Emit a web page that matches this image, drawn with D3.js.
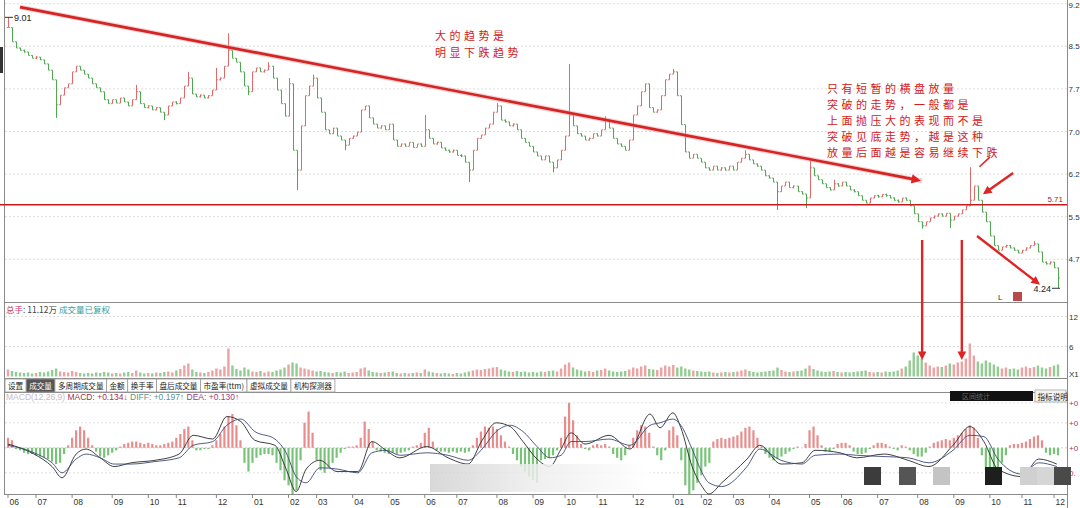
<!DOCTYPE html>
<html><head><meta charset="utf-8">
<script src="https://cdn.jsdelivr.net/npm/d3@7"></script>
<style>html,body{margin:0;padding:0;background:#fff;}svg{display:block;}</style>
</head><body><svg id="c" width="1080" height="508"></svg>
<script>
// ---------------- DATA ----------------
const closes = [
8.83,8.58,8.47,8.43,8.40,8.34,8.29,8.31,8.26,8.19,
8.08,7.91,7.47,7.64,7.77,7.84,8.05,8.15,8.08,8.01,
7.94,7.84,7.77,7.70,7.56,7.49,7.56,7.50,7.59,7.52,
7.45,7.56,7.70,7.49,7.42,7.45,7.38,7.42,7.34,7.29,
7.45,7.52,7.49,7.59,7.80,7.94,7.66,7.61,7.64,7.59,
7.63,7.73,7.91,7.94,8.15,8.43,8.29,8.22,8.05,7.80,
7.70,8.05,8.12,8.05,8.08,8.15,7.94,7.73,7.49,7.27,
7.84,6.67,6.32,7.10,7.63,7.80,7.94,7.59,7.34,7.03,
6.96,7.06,6.92,6.85,6.76,6.88,6.92,6.99,7.38,7.45,
7.24,7.13,7.06,7.10,7.03,7.13,6.85,6.74,6.78,6.74,
6.81,6.72,6.78,6.74,7.03,6.88,6.78,6.81,6.71,6.67,
6.64,6.67,6.58,6.57,6.46,6.32,6.67,6.88,6.94,7.06,
7.13,7.34,7.45,7.20,7.17,7.10,7.13,7.03,6.88,6.81,
6.74,6.64,6.57,6.50,6.57,6.46,6.36,6.50,6.67,6.92,
7.29,7.10,6.96,6.92,6.85,6.88,6.96,6.92,7.03,7.20,
7.06,6.88,6.78,6.74,6.67,6.85,7.29,7.45,7.70,7.84,
7.42,7.34,7.38,7.63,7.91,8.01,8.05,7.63,7.12,6.64,
6.53,6.60,6.53,6.46,6.36,6.32,6.39,6.32,6.36,6.32,
6.39,6.32,6.46,6.53,6.60,6.50,6.43,6.39,6.32,6.22,
6.18,6.11,5.94,6.04,6.11,6.01,6.04,5.94,5.90,5.83,
6.36,6.22,6.15,6.08,6.01,5.97,6.08,6.04,6.11,6.04,
5.97,5.94,5.87,5.79,5.74,5.83,5.87,5.85,5.89,5.87,
5.83,5.79,5.76,5.83,5.79,5.69,5.55,5.41,5.34,5.41,
5.48,5.51,5.55,5.51,5.56,5.44,5.51,5.55,5.62,5.69,
5.79,6.04,5.79,5.58,5.41,5.16,4.99,4.91,4.97,4.99,
4.95,4.91,4.86,4.91,4.95,4.99,5.02,4.88,4.70,4.67,
4.70,4.60,4.42];
const highIdx = [0,32,45,52,55,65,70,76,104,122,140,149,166,184,200,206,240,256];
const highVal = [9.01,7.82,8.05,8.12,8.73,8.22,7.94,8.00,7.29,7.50,8.19,7.27,8.10,6.67,6.50,6.15,6.37,5.07];
const lowIdx = [12,39,60,72,84,115,136,192,199,228,235,262];
const lowVal = [7.24,7.20,7.64,5.97,6.67,6.11,6.28,5.62,5.65,5.29,5.30,4.24];

const volumes = [
1.4,1.1,0.9,0.8,0.7,0.8,0.6,0.7,0.9,0.8,
1.0,1.3,1.6,1.0,0.9,0.8,1.1,0.9,0.7,0.6,
0.7,0.6,0.8,0.7,0.9,0.8,0.6,0.7,0.6,0.8,
0.9,0.7,1.2,0.8,0.6,0.7,0.6,0.8,0.7,0.9,
1.0,0.8,1.2,1.5,2.2,2.6,1.4,0.9,0.8,0.7,
0.9,1.2,1.6,1.4,2.0,5.6,2.2,1.5,1.2,1.8,
1.4,1.0,0.9,1.1,0.8,1.0,0.9,1.2,1.4,1.8,
2.4,2.8,2.6,1.8,1.6,1.4,1.2,1.0,1.1,0.9,
0.8,0.7,0.9,0.8,1.0,0.7,0.8,0.9,1.6,1.8,
1.2,0.9,0.8,0.7,0.8,0.9,1.0,0.7,0.6,0.7,
0.6,0.7,0.8,0.7,1.4,1.0,0.8,0.7,0.6,0.7,
0.6,0.5,0.7,0.6,0.8,1.0,1.2,1.4,1.3,1.5,
1.6,1.8,1.9,1.4,1.2,1.0,0.9,1.1,0.9,1.0,
0.8,0.9,0.8,1.0,0.9,1.1,1.2,1.0,1.6,2.4,
2.8,1.8,1.4,1.2,1.0,1.1,0.9,1.2,1.3,1.6,
1.2,1.0,0.9,1.0,1.1,1.4,1.8,1.6,2.0,2.2,
1.5,1.4,1.3,1.8,2.2,2.0,2.3,1.8,2.0,1.6,
1.4,1.2,1.1,1.0,0.9,1.0,0.8,0.7,0.8,0.9,
0.8,0.9,1.0,1.2,1.4,1.1,0.9,0.8,0.9,1.0,
1.1,1.2,1.8,1.3,1.0,0.9,1.0,1.1,1.2,1.6,
2.2,1.5,1.2,1.0,0.9,1.0,1.1,0.9,0.8,0.9,
0.8,0.9,1.0,1.1,1.2,0.9,0.8,0.9,0.8,1.0,
0.9,1.0,1.2,1.6,2.0,3.2,4.8,4.2,3.6,2.8,
2.2,1.8,2.0,1.9,2.2,2.6,2.4,2.8,3.0,3.6,
6.6,4.2,3.0,2.6,3.2,2.8,2.4,2.0,1.6,1.8,
1.5,1.6,1.4,1.8,2.0,1.7,1.9,2.2,1.8,1.6,
1.9,2.2,2.4];

const macdHist = [
0.08,0.06,-0.01,-0.02,-0.04,-0.05,-0.05,-0.06,-0.07,-0.08,
-0.09,-0.11,-0.13,-0.12,-0.05,0.02,0.08,0.14,0.17,0.14,
0.08,0.02,-0.03,-0.07,-0.08,-0.06,-0.04,-0.02,0.01,0.03,
0.04,0.05,0.05,0.04,0.03,0.04,0.03,0.02,0.02,0.03,
0.04,0.05,0.08,0.11,0.15,0.17,0.06,-0.02,-0.02,-0.01,
-0.01,0.02,0.06,0.11,0.17,0.25,0.27,0.18,0.06,-0.12,
-0.19,-0.12,-0.08,-0.06,-0.05,-0.05,-0.06,-0.12,-0.18,-0.26,
-0.30,-0.37,-0.34,-0.10,0.20,0.29,0.12,-0.10,-0.18,-0.20,
-0.16,-0.12,-0.08,-0.04,-0.01,0.01,0.01,0.02,0.08,0.21,
0.15,0.05,-0.02,-0.03,-0.04,-0.05,-0.04,-0.05,-0.04,-0.03,
-0.02,0.01,0.02,0.04,0.12,0.16,0.05,-0.02,-0.03,-0.03,
-0.04,-0.03,-0.04,-0.03,-0.04,-0.03,0.02,0.08,0.13,0.17,
0.16,0.17,0.15,0.10,0.05,0.01,-0.05,-0.10,-0.15,-0.19,
-0.23,-0.26,-0.28,-0.10,-0.09,-0.08,-0.06,-0.02,0.08,0.25,
0.36,0.22,0.10,0.03,-0.01,-0.02,0.02,0.03,0.02,0.03,
0.01,-0.05,-0.08,-0.10,-0.06,0.02,0.08,0.14,0.18,0.17,
0.12,0.01,-0.06,-0.10,-0.02,0.14,0.17,0.10,-0.10,-0.30,
-0.37,-0.34,-0.28,-0.22,-0.15,-0.12,0.05,0.07,0.08,0.07,
0.08,0.09,0.10,0.13,0.16,0.17,0.14,0.08,0.01,-0.05,
-0.08,-0.10,-0.09,-0.07,-0.05,-0.03,-0.01,0.01,0.00,0.03,
0.14,0.17,0.10,0.02,-0.03,-0.03,-0.01,0.03,0.04,0.04,
0.02,-0.03,-0.05,-0.05,-0.04,-0.01,0.02,0.04,0.04,0.03,
0.01,-0.01,-0.02,0.02,0.01,-0.02,-0.05,-0.07,-0.07,-0.04,
0.01,0.04,0.05,0.06,0.07,0.06,0.08,0.10,0.12,0.15,
0.18,0.16,0.08,-0.06,-0.18,-0.23,-0.22,-0.18,-0.12,-0.06,
0.02,0.03,0.03,0.04,0.05,0.07,0.09,0.10,0.06,-0.04,
-0.06,-0.05,-0.06];

const lineIdx = [0,6.5,11,13.5,17,19.5,23,26.5,30.7,36.7,42.7,46.2,51.1,54.6,58.1,61.6,66.6,69.4,71.9,74.4,77.8,82.1,87.3,90.8,94.3,97.8,104.5,109.8,114.8,118.3,121.8,125.3,128.5,132,135.2,138,140.5,144,150,155.2,160.2,162.7,165.9,167.9,170.7,173.2,174.9,178.1,184.4,187.6,192.9,198.1,201.4,207.6,211.8,218.6,224.6,229.8,235.8,240,243.5,247,253,257.2,261.7];
const diffVals = [0.03,-0.05,-0.15,-0.24,-0.05,-0.01,-0.08,-0.15,-0.12,-0.10,-0.05,0.10,0.07,0.25,0.21,0.06,0.02,-0.17,-0.35,-0.17,-0.10,-0.19,-0.19,0.05,-0.02,-0.08,0.01,-0.08,-0.13,0.06,0.20,0.17,0.05,-0.09,-0.15,-0.01,0.12,0.03,0.10,-0.01,0.27,0.16,0.28,0.16,-0.15,-0.31,-0.37,-0.28,-0.09,0.02,-0.13,-0.12,-0.02,-0.04,-0.08,-0.05,-0.10,-0.15,0.02,0.17,0.05,-0.17,-0.23,-0.09,-0.13];
const deaVals = [0.02,-0.04,-0.12,-0.20,-0.09,-0.05,-0.08,-0.13,-0.13,-0.11,-0.08,0.02,0.05,0.18,0.23,0.13,0.07,-0.04,-0.23,-0.28,-0.16,-0.17,-0.20,-0.04,-0.02,-0.06,-0.04,-0.06,-0.10,-0.01,0.13,0.18,0.13,0.01,-0.08,-0.06,0.05,0.05,0.07,0.02,0.18,0.20,0.23,0.18,-0.01,-0.20,-0.28,-0.31,-0.15,-0.01,-0.10,-0.13,-0.06,-0.05,-0.06,-0.07,-0.08,-0.12,-0.02,0.10,0.09,-0.09,-0.21,-0.12,-0.15];

const priceTicks = [9.25,8.5,7.75,7.0,6.25,5.5,4.75];
const priceTickLabels = ["9.2","8.5","7.7","7.0","6.2","5.5","4.7"];   // as visible at the cut-off right edge
const volTicks = [12,6];
const volTickLabels = ["12","6"];
const macdTicks = [0.36,0.2,0,-0.2];
const macdTickLabels = ["+0","+0","+0","0."];                      // as visible at the cut-off right edge
const monthLabels = ["06","07","08","09","10","11","12","01","02","03","04","05","06","07","08","09","10","11","12","01","02","03","04","05","06","07","08","09","10","11","12"];
const monthIdx = [0,7,16,26,35,42,52,61,70,77,86,95,104,112,122,131,139,147,156,166,173,181,190,200,208,217,227,236,245,253,261];
const tabs = ["设置","成交量","多周期成交量","金额","换手率","盘后成交量","市盈率(ttm)","虚拟成交量","机构探测器"];
const supportLevel = 5.71;
const firstHigh = 9.01, lastLow = 4.24;
const note1 = ["大的趋势是","明显下跌趋势"];
const note2 = ["只有短暂的横盘放量","突破的走势，一般都是","上面抛压大的表现而不是","突破见底走势，越是这种","放量后面越是容易继续下跌"];

// ---------------- DRAW ----------------
const svg = d3.select("#c");
const SANS = "'Liberation Sans','DejaVu Sans',Arial,sans-serif";
const CJK = "'Noto Sans CJK SC','Noto Sans',sans-serif";
const N = closes.length;
const x = d3.scaleLinear().domain([0, N-1]).range([8, 1058]);
const yP = d3.scaleLinear().domain([4.75, 9.25]).range([259.3, 3.7]);
const yV = d3.scaleLinear().domain([0, 12]).range([376.5, 316.5]);
const yM = d3.scaleLinear().domain([-0.2, 0.36]).range([472.8, 402.8]);
const R = 1067; // right axis x
const UP = "#e06a6a", DN = "#4fa84f";

const defs = svg.append("defs");
defs.append("marker").attr("id","arr").attr("viewBox","0 0 10 10").attr("refX",7).attr("refY",5)
  .attr("markerWidth",4.2).attr("markerHeight",3.6).attr("orient","auto")
  .append("path").attr("d","M0,0L10,5L0,10z").attr("fill","#e02424");
const g1 = defs.append("linearGradient").attr("id","blur1").attr("x1",0).attr("x2",1);
g1.append("stop").attr("offset",0).attr("stop-color","#cfcfcf").attr("stop-opacity",0.8);
g1.append("stop").attr("offset",0.45).attr("stop-color","#ececec").attr("stop-opacity",0.85);
g1.append("stop").attr("offset",1).attr("stop-color","#ffffff").attr("stop-opacity",0.9);

// grids
const grid = svg.append("g");
grid.selectAll(".pg").data(priceTicks).join("line")
  .attr("x1",5).attr("x2",R).attr("y1",d=>yP(d)).attr("y2",d=>yP(d))
  .attr("stroke","#d6d6d6").attr("stroke-dasharray","2,2").attr("stroke-width",0.8);
grid.selectAll(".vg").data(volTicks).join("line")
  .attr("x1",5).attr("x2",R).attr("y1",d=>yV(d)).attr("y2",d=>yV(d))
  .attr("stroke","#d6d6d6").attr("stroke-dasharray","2,2").attr("stroke-width",0.8);
grid.selectAll(".mg").data(macdTicks).join("line")
  .attr("x1",5).attr("x2",R).attr("y1",d=>yM(d)).attr("y2",d=>yM(d))
  .attr("stroke",d=>d===0?"#c8c8c8":"#d6d6d6").attr("stroke-dasharray","2,2").attr("stroke-width",0.8);

// frame lines
const frame = svg.append("g").attr("stroke","#8a8a8a").attr("stroke-width",1);
frame.append("line").attr("x1",4.5).attr("x2",4.5).attr("y1",0).attr("y2",495);
frame.append("line").attr("x1",R+0.5).attr("x2",R+0.5).attr("y1",0).attr("y2",508);
frame.append("line").attr("x1",4).attr("x2",R).attr("y1",302.5).attr("y2",302.5);
frame.append("line").attr("x1",4).attr("x2",R).attr("y1",378.5).attr("y2",378.5);
frame.append("line").attr("x1",4).attr("x2",R).attr("y1",392.5).attr("y2",392.5);
frame.append("line").attr("x1",4).attr("x2",R).attr("y1",494.5).attr("y2",494.5);
svg.append("rect").attr("x",0).attr("y",47).attr("width",3).attr("height",26).attr("fill","#333");

// price bars
const bars = closes.map((c,i)=>{
  const o = i>0 ? closes[i-1] : c;
  let hi = Math.max(o,c), lo = Math.min(o,c);
  const hk = highIdx.indexOf(i); if (hk>=0) hi = Math.max(hi, highVal[hk]);
  const lk = lowIdx.indexOf(i); if (lk>=0) lo = Math.min(lo, lowVal[lk]);
  return {i,o,c,hi,lo,up:c>=o};
});
const pb = svg.append("g");
bars.forEach(b=>{
  let y1 = yP(b.hi), y2 = yP(b.lo);
  if (y2-y1 < 3){ const m=(y1+y2)/2; y1=m-1.5; y2=m+1.5; }
  const col = b.up?UP:DN, cx = Math.round(x(b.i))+0.5;
  pb.append("line").attr("x1",cx).attr("x2",cx).attr("y1",y1).attr("y2",y2).attr("stroke",col).attr("stroke-width",1);
  pb.append("line").attr("x1",cx-1.6).attr("x2",cx).attr("y1",yP(b.o)).attr("y2",yP(b.o)).attr("stroke",col).attr("stroke-width",0.9);
  pb.append("line").attr("x1",cx).attr("x2",cx+1.6).attr("y1",yP(b.c)).attr("y2",yP(b.c)).attr("stroke",col).attr("stroke-width",0.9);
});

// volume bars
svg.append("g").selectAll("rect").data(volumes).join("rect")
  .attr("x",(d,i)=>x(i)-1.2).attr("width",2.4)
  .attr("y",d=>yV(d)).attr("height",d=>yV(0)-yV(d))
  .attr("fill",(d,i)=>bars[i].up?"#eba3a3":"#93cc93");

// macd histogram
svg.append("g").selectAll("line").data(macdHist).join("line")
  .attr("x1",(d,i)=>x(i)).attr("x2",(d,i)=>x(i))
  .attr("y1",yM(0)).attr("y2",d=>yM(d))
  .attr("stroke",d=>d>=0?"#e88c8c":"#79c379").attr("stroke-width",2.2);
const ln = d3.line().x(d=>x(d[0])).y(d=>yM(d[1])).curve(d3.curveMonotoneX);
svg.append("path").attr("d",ln(lineIdx.map((k,j)=>[k,diffVals[j]]))).attr("fill","none").attr("stroke","#2a2a2a").attr("stroke-width",0.9);
svg.append("path").attr("d",ln(lineIdx.map((k,j)=>[k,deaVals[j]]))).attr("fill","none").attr("stroke","#3d4a78").attr("stroke-width",0.9);

// axes labels (right)
const ax = svg.append("g").attr("font-family",SANS).attr("font-size",8).attr("fill","#333");
ax.selectAll(".pl").data(priceTicks).join("text").attr("x",R+1.5).attr("y",d=>Math.max(yP(d)+3,8)).text((d,i)=>priceTickLabels[i]);
ax.selectAll(".vl").data(volTicks).join("text").attr("x",R+2).attr("y",d=>yV(d)+3).text((d,i)=>volTickLabels[i]);
ax.append("text").attr("x",R+2).attr("y",yV(0)).text("X1");
ax.selectAll(".ml").data(macdTicks).join("text").attr("x",R+2).attr("y",d=>yM(d)+3).attr("fill","#9a4060").text((d,i)=>macdTickLabels[i]);

// month axis
const mx = svg.append("g").attr("font-family",SANS).attr("font-size",8.5).attr("fill","#333");
mx.selectAll("line").data(monthIdx).join("line").attr("x1",d=>x(d)).attr("x2",d=>x(d)).attr("y1",494).attr("y2",498).attr("stroke","#888");
mx.selectAll("text").data(monthIdx).join("text").attr("x",d=>x(d)+1.5).attr("y",505).text((d,i)=>monthLabels[i]);

// support line 5.71
svg.append("line").attr("x1",0).attr("x2",R).attr("y1",yP(supportLevel)).attr("y2",yP(supportLevel)).attr("stroke","#c41c1c").attr("stroke-width",1.4);
svg.append("text").attr("x",R-4).attr("y",yP(supportLevel)-3).attr("text-anchor","end").attr("font-family",SANS).attr("font-size",8).attr("fill","#9a2a2a").text(d3.format(".2f")(supportLevel));

// first high / last low labels
svg.append("line").attr("x1",x(0)-3).attr("x2",x(0)+5).attr("y1",yP(firstHigh)).attr("y2",yP(firstHigh)).attr("stroke","#333");
svg.append("text").attr("x",x(0)+6).attr("y",yP(firstHigh)+3.5).attr("font-family",SANS).attr("font-size",9).attr("fill","#222").text(d3.format(".2f")(firstHigh));
svg.append("line").attr("x1",x(N-1)-6).attr("x2",x(N-1)+2).attr("y1",yP(lastLow)).attr("y2",yP(lastLow)).attr("stroke","#333");
svg.append("text").attr("x",x(N-1)-7).attr("y",yP(lastLow)+3.5).attr("text-anchor","end").attr("font-family",SANS).attr("font-size",9).attr("fill","#222").text(d3.format(".2f")(lastLow));
svg.append("text").attr("x",998).attr("y",300).attr("font-family",SANS).attr("font-size",8).attr("fill","#333").text("L");
svg.append("rect").attr("x",1013).attr("y",292).attr("width",9).attr("height",9).attr("fill","#b84a4a");

// trend line
const tl = [[3,9.19],[228.1,6.13]];
svg.append("line").attr("x1",x(tl[0][0])).attr("y1",yP(tl[0][1])).attr("x2",x(tl[1][0])).attr("y2",yP(tl[1][1]))
  .attr("stroke","#f0a0a0").attr("stroke-width",5).attr("stroke-opacity",0.5);
svg.append("line").attr("x1",x(tl[0][0])).attr("y1",yP(tl[0][1])).attr("x2",x(tl[1][0])-4).attr("y2",yP(tl[1][1])-0.8)
  .attr("stroke","#d42424").attr("stroke-width",2.6).attr("marker-end","url(#arr)");

// red arrows
const arrows = [
  {a:[x(250.8),yP(6.27)], b:[x(243.8),yP(5.92)]},
  {a:[x(241.8),yP(5.16)], b:[x(257.0),yP(4.33)]},
  {a:[x(228.1),yP(5.09)], b:[x(228.1),yV(3.8)]},
  {a:[x(238.0),yP(5.09)], b:[x(238.0),yV(3.8)]}
];
arrows.forEach(r=>{
  svg.append("line").attr("x1",r.a[0]).attr("y1",r.a[1]).attr("x2",r.b[0]).attr("y2",r.b[1])
    .attr("stroke","#e02424").attr("stroke-width",2.4).attr("marker-end","url(#arr)");
});
svg.append("line").attr("x1",x(245)).attr("y1",yP(6.55)).attr("x2",x(242.4)).attr("y2",yP(6.38))
  .attr("stroke","#e02424").attr("stroke-width",1.6);

// annotations (multi-line text blocks)
function block(lines, x0, y0, lh){
  const t = svg.append("text").attr("font-family",CJK).attr("font-size",11).attr("fill","#d22020").attr("letter-spacing",3.5);
  lines.forEach((s,k)=>t.append("tspan").attr("x",x0).attr("y",y0+k*lh).text(s));
}
block(note1, 435, 39.5, 17);
block(note2, 827, 93, 16.1);

// volume header
const vh = svg.append("text").attr("x",6).attr("y",313).attr("font-family",CJK).attr("font-size",8.5);
vh.append("tspan").attr("fill","#c23a6a").text("总手");
vh.append("tspan").attr("fill","#444").text(": 11.12万  ");
vh.append("tspan").attr("fill","#3a9e9e").text("成交量已复权");

// tabs
const tg = svg.append("g").attr("font-family",CJK).attr("font-size",7.6);
let tx = 5;
tabs.forEach((t,k)=>{
  const tmp = tg.append("text").attr("x",0).attr("y",-20).text(t);
  const w = tmp.node().getComputedTextLength(); tmp.remove();
  const bw = w + 6;
  tg.append("rect").attr("x",tx).attr("y",379).attr("width",bw).attr("height",13)
    .attr("fill",k===1?"#555":"#fff").attr("stroke","#9a9a9a").attr("stroke-width",0.8);
  tg.append("text").attr("x",tx+3).attr("y",388.8).attr("fill",k===1?"#fff":"#222").text(t);
  tx += bw;
});

// macd header
const mh = svg.append("text").attr("x",6).attr("y",400).attr("font-family",SANS).attr("font-size",8.5);
mh.append("tspan").attr("fill","#c9b9c9").text("MACD(12,26,9) ");
mh.append("tspan").attr("fill","#a3324e").text("MACD: +0.134\u2193  ");
mh.append("tspan").attr("fill","#5a9494").text("DIFF: +0.197\u2191  ");
mh.append("tspan").attr("fill","#9c3c7c").text("DEA: +0.130\u2191");

svg.append("rect").attr("x",950).attr("y",391).attr("width",83).attr("height",10).attr("fill","#111");
svg.append("text").attr("x",962).attr("y",399).attr("font-family",CJK).attr("font-size",7).attr("fill","#666").text("区间统计");
svg.append("rect").attr("x",1035).attr("y",390).attr("width",31).attr("height",12).attr("fill","#f4f4f4").attr("stroke","#999").attr("stroke-width",0.7);
svg.append("text").attr("x",1037.5).attr("y",399.5).attr("font-family",CJK).attr("font-size",7.6).attr("fill","#222").text("指标说明");

// obscuring overlays present in the source picture
svg.append("rect").attr("x",430).attr("y",464).attr("width",220).attr("height",28).attr("fill","url(#blur1)");
const blocks = [[864,"#3c3c3c"],[899,"#555"],[933,"#c4c4c4"],[985,"#1e1e1e"],[1020,"#d0d0d0"],[1037,"#d6d6d6"],[1054,"#4a4a4a"]];
svg.append("g").selectAll("rect").data(blocks).join("rect")
  .attr("x",d=>d[0]).attr("y",467).attr("width",17).attr("height",18).attr("fill",d=>d[1]);
</script></body></html>
